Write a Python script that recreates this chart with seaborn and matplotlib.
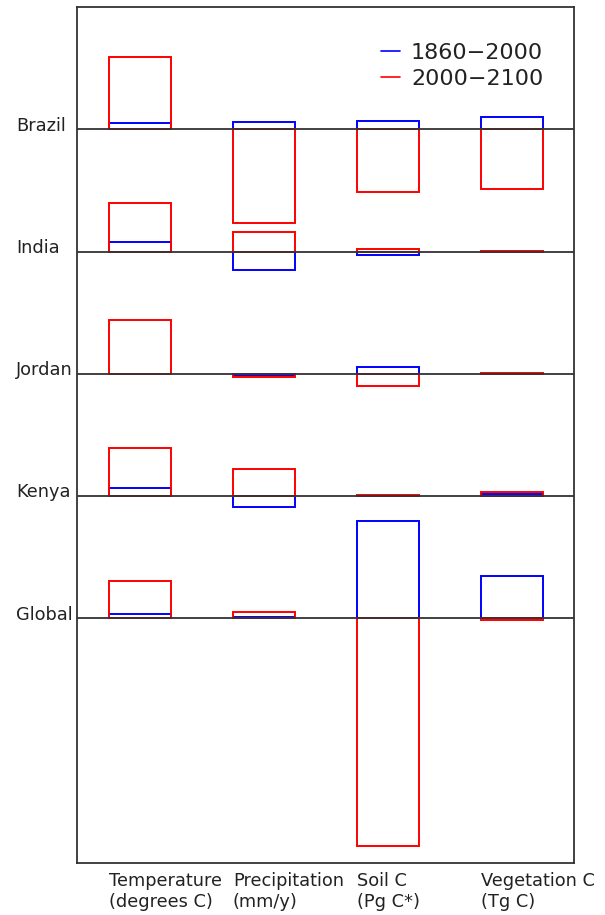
import matplotlib
matplotlib.use('Agg')
import matplotlib.pyplot as plt
import matplotlib.transforms as mtransforms
from matplotlib.lines import Line2D
import seaborn as sns

# regions top to bottom, each one sits on its own baseline
regions = ['Brazil', 'India', 'Jordan', 'Kenya', 'Global']
offsets = [4, 3, 2, 1, 0]
variables = ['Temperature\n(degrees C)', 'Precipitation\n(mm/y)', 'Soil C\n(Pg C*)', 'Vegetation C\n(Tg C)']
periods = ['1860\u22122000', '2000\u22122100']

# scaled changes (one row per region: temp, precip, soil C, veg C)
hist = [
    [0.049, 0.057, 0.065, 0.098],
    [0.082, -0.147, -0.025, 0.0],
    [0.0, -0.01, 0.057, 0.0],
    [0.065, -0.09, 0.0, 0.016],
    [0.033, 0.01, 0.80, 0.344],
]
future = [
    [0.589, -0.77, -0.515, -0.49],
    [0.40, 0.164, 0.025, 0.008],
    [0.44, -0.025, -0.10, 0.008],
    [0.39, 0.22, 0.006, 0.033],
    [0.31, 0.05, -1.865, -0.016],
]

sns.set_style('white')
plt.rcParams['font.family'] = ['DejaVu Sans']

fig = plt.figure(figsize=(6.05, 9.15), dpi=100)
ax = fig.add_axes([77 / 605, 52 / 915, 497 / 605, 856 / 915])

ytrans = mtransforms.blended_transform_factory(ax.transAxes, ax.transData)
for i, region in enumerate(regions):
    for vals, col in [(hist[i], 'blue'), (future[i], 'red')]:
        sns.barplot(x=variables, y=vals, order=variables, bottom=offsets[i],
                    color=col, saturation=1, fill=False, width=0.5,
                    linewidth=1.4, errorbar=None, ax=ax)
    ax.axhline(offsets[i], color='#333333', lw=1.3, zorder=5)
    ax.text(-0.1227, offsets[i] - 0.01, region, transform=ytrans,
            ha='left', va='baseline', fontsize=12.8, color='#222222')

ax.set_xlim(-0.508, 3.5)
ax.set_ylim(-2.0, 5.0)
ax.set_xticks([])
ax.set_yticks([])
ax.set_xlabel('')
ax.set_ylabel('')
for s in ax.spines.values():
    s.set_color('#333333')
    s.set_linewidth(1.3)

trans = mtransforms.blended_transform_factory(ax.transData, ax.transAxes)
for j, lab in enumerate(variables):
    ax.text(j - 0.25, -0.011, lab, transform=trans, ha='left', va='top',
            fontsize=12.8, color='#222222', linespacing=1.2)

handles = [Line2D([], [], color='blue', lw=1.2), Line2D([], [], color='red', lw=1.2)]
ax.legend(handles, periods, loc='upper left', bbox_to_anchor=(381 / 605, 1 - 43 / 915),
          bbox_transform=fig.transFigure, frameon=False, fontsize=16,
          handlelength=0.85, handletextpad=0.5, labelspacing=0.25, borderpad=0,
          borderaxespad=0, labelcolor='#222222')

fig.savefig('out.png', dpi=100)
